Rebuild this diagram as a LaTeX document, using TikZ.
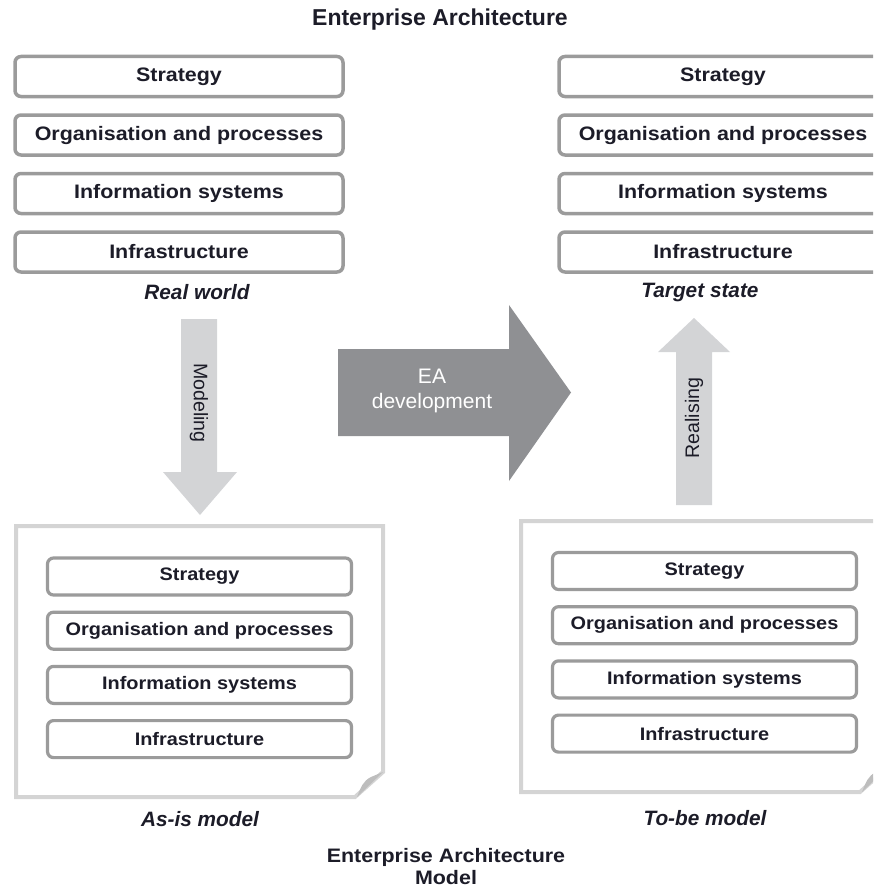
\documentclass[tikz,border=0pt]{standalone}
\usepackage{fontspec}
\setmainfont{Liberation Sans}
\newfontfamily\wideface[FakeStretch=1.1]{Liberation Sans}
\usetikzlibrary{positioning}

\definecolor{boxgrey}{HTML}{9B9B9B}
\definecolor{inkdark}{HTML}{1C1C28}
\definecolor{docgrey}{HTML}{D4D4D4}
\definecolor{foldgrey}{HTML}{BDBDBD}
\definecolor{lightarrow}{HTML}{D3D4D6}
\definecolor{darkarrow}{HTML}{8F9093}

\begin{document}
\begin{tikzpicture}[x=1pt, y=-1pt,  % one unit = one pixel of the page
    node distance=15pt,
    layer/.style={draw=boxgrey, fill=white, rounded corners=6pt, line width=3.5pt,
        text=inkdark, minimum width=328pt, minimum height=40pt, inner sep=0pt,
        font=\wideface\bfseries\fontsize{19.5}{22}\selectfont},
    smalllayer/.style={layer, line width=3.2pt, minimum width=304pt, minimum height=37pt,
        font=\wideface\bfseries\fontsize{18.1}{21}\selectfont},
    caption/.style={text=inkdark, font=\bfseries\itshape\fontsize{20.8}{24}\selectfont},
    heading/.style={text=inkdark, align=center, inner sep=0pt, font=\wideface\bfseries\fontsize{19.5}{22}\selectfont},
    doc/.style={draw=docgrey, fill=white, line width=4pt, line join=miter},
    arrowtext/.style={text=inkdark, font=\fontsize{19.6}{22}\selectfont}
    ]
    \useasboundingbox (0,0) rectangle (873,891);
    \clip (0,0) rectangle (873,891);

    \node[text=inkdark, font=\bfseries\fontsize{23}{26}\selectfont] (eatitle) at (440,20) {Enterprise Architecture};

    % real world
    \node[layer] (rwstr) at (179,76.5) {Strategy};
    \node[layer, below=of rwstr] (rworg) {Organisation and processes};
    \node[layer, below=of rworg] (rwinfo) {Information systems};
    \node[layer, below=of rwinfo] (rwinfra) {Infrastructure};
    \node[caption] (realworld) at (197,292) {Real world};

    % target state
    \node[layer] (tsstr) at (723,76.5) {Strategy};
    \node[layer, below=of tsstr] (tsorg) {Organisation and processes};
    \node[layer, below=of tsorg] (tsinfo) {Information systems};
    \node[layer, below=of tsinfo] (tsinfra) {Infrastructure};
    \node[caption] (targetstate) at (700,293) {Target state};

    % block arrows
    \fill[lightarrow] (181,319) -- (217,319) -- (217,472) -- (237,472) -- (200,515)
        -- (163,472) -- (181,472) -- cycle;
    \node[arrowtext, rotate=-90] (modeling) at (199,403) {Modeling};
    \fill[lightarrow] (676,505) -- (712,505) -- (712,352) -- (730,352) -- (694,318)
        -- (658,352) -- (676,352) -- cycle;
    \node[arrowtext, rotate=90] (realising) at (694,418) {Realising};
    \fill[darkarrow] (338,349) -- (509,349) -- (509,305) -- (571,392.5) -- (509,481)
        -- (509,436) -- (338,436) -- cycle;
    \node[align=center, text=white, font=\fontsize{21}{25}\selectfont] (eadev) at (432,391) {EA\\development};

    % as-is model
    \draw[doc] (16,526) -- (383,526) -- (383,772) -- (355,797) -- (16,797) -- cycle;
    \fill[foldgrey] (383,772) -- (357,797) .. controls (361,787) and (363,781) .. (371,777) -- cycle;
    \begin{scope}[node distance=14pt]
    \node[smalllayer] (asstr) at (199.5,576.5) {Strategy};
    \node[smalllayer, below=of asstr] (asorg) {Organisation and processes};
    \node[smalllayer, below=of asorg] (asinfo) {Information systems};
    \node[smalllayer, below=of asinfo] (asinfra) {Infrastructure};
    \end{scope}
    \node[caption] (asis) at (200,819) {As-is model};

    % to-be model
    \draw[doc] (521,521) -- (888,521) -- (888,767) -- (860,792) -- (521,792) -- cycle;
    \fill[foldgrey] (888,767) -- (862,792) .. controls (866,782) and (868,776) .. (876,772) -- cycle;
    \begin{scope}[node distance=14pt]
    \node[smalllayer] (tbstr) at (704.5,571) {Strategy};
    \node[smalllayer, below=of tbstr] (tborg) {Organisation and processes};
    \node[smalllayer, below=of tborg] (tbinfo) {Information systems};
    \node[smalllayer, below=of tbinfo] (tbinfra) {Infrastructure};
    \end{scope}
    \node[caption] (tobe) at (705,818) {To-be model};

    \node[heading] (eamodel) at (446,867) {Enterprise Architecture\\Model};

\end{tikzpicture}
\end{document}
